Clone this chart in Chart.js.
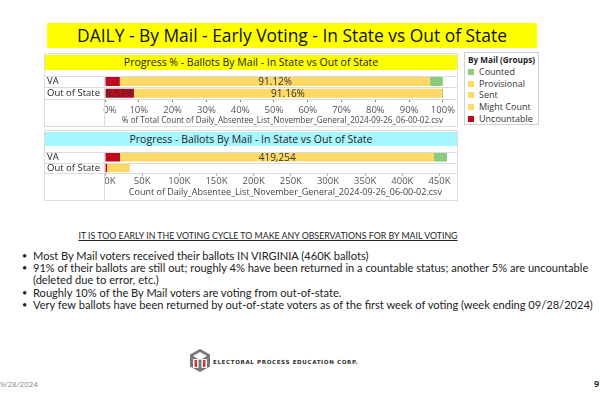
<!DOCTYPE html>
<html>
<head>
<meta charset="utf-8">
<script src="https://cdn.jsdelivr.net/npm/chart.js@4.4.1/dist/chart.umd.min.js"></script>
<style>
body { margin:0; width:600px; height:400px; background:#fff; position:relative; overflow:hidden; font-family:"Open Sans", sans-serif; color:#222; }
.abs { position:absolute; }
#title { left:47px; top:23px; width:490px; height:25px; background:#ffff00; font-size:17.4px; line-height:25px; text-align:center; color:#111; }
.panel { left:44px; width:414px; border:1px solid #dcdcdc; box-sizing:border-box; }
.hdr { left:45px; width:412px; font-size:10.5px; text-align:center; color:#222; }
#legend { left:464px; top:52px; width:75px; height:73px; border:1px solid #d0d0d0; box-sizing:border-box; padding-left:3px; }
#legend .lt { font-weight:bold; font-size:8.2px; line-height:13px; color:#1e1e1e; white-space:nowrap; }
#legend .li { font-size:9px; line-height:11.7px; white-space:nowrap; color:#333; }
#legend .sw { display:inline-block; width:6px; height:6px; margin-right:5px; vertical-align:0px; }
#note { left:0; top:230px; width:536px; text-align:center; font-family:Lato, sans-serif; font-size:8.8px; text-decoration:underline; color:#222; }
#bullets { left:22px; top:250px; width:578px; font-family:Lato, sans-serif; font-size:11.1px; line-height:12.2px; color:#222; }
#bullets div { position:relative; padding-left:11px; white-space:nowrap; }
#bullets div.b:before { content:"\2022"; position:absolute; left:0; font-size:9px; }
#logoText { left:213px; top:359px; font-family:"DejaVu Sans", sans-serif; font-weight:bold; font-size:5.6px; letter-spacing:0.6px; color:#333; white-space:nowrap; }
#date { left:0; top:378px; font-size:8px; color:#8a8a8a; }
#page { left:594px; top:377px; font-size:9px; font-weight:bold; color:#333; }
</style>
</head>
<body>
<div id="title" class="abs">DAILY - By Mail - Early Voting - In State vs Out of State</div>

<div class="abs panel" style="top:53px;height:74px;"></div>
<div class="abs hdr" style="top:55px;height:15px;line-height:15px;background:#ffff00;">Progress % - Ballots By Mail - In State vs Out of State</div>
<canvas id="pctChart" class="abs" style="left:44px;top:70px;" width="414" height="57"></canvas>

<div class="abs panel" style="top:130px;height:71px;"></div>
<div class="abs hdr" style="top:132px;height:14px;line-height:14px;background:#a6f6ff;">Progress - Ballots By Mail - In State vs Out of State</div>
<canvas id="countChart" class="abs" style="left:44px;top:146px;" width="414" height="54"></canvas>

<div id="legend" class="abs">
  <div class="lt">By Mail (Groups)</div>
  <div id="legendItems"></div>
</div>

<div id="note" class="abs">IT IS TOO EARLY IN THE VOTING CYCLE TO MAKE ANY OBSERVATIONS FOR BY MAIL VOTING</div>
<div id="bullets" class="abs">
  <div class="b">Most By Mail voters received their ballots IN VIRGINIA (460K ballots)</div>
  <div class="b">91% of their ballots are still out; roughly 4% have been returned in a countable status; another 5% are uncountable</div>
  <div>(deleted due to error, etc.)</div>
  <div class="b">Roughly 10% of the By Mail voters are voting from out-of-state.</div>
  <div class="b">Very few ballots have been returned by out-of-state voters as of the first week of voting (week ending 09/28/2024)</div>
</div>

<svg class="abs" style="left:189px;top:348px;" width="22" height="25" viewBox="0 0 22 25">
  <polygon points="11,1 21,6.5 21,18.5 11,24 1,18.5 1,6.5" fill="#777"/>
  <polygon points="11,4 18,8 11,12 4,8" fill="#fff"/>
  <rect x="4" y="11" width="5.5" height="9" fill="#fff"/>
  <rect x="12.5" y="11" width="5.5" height="9" fill="#fff"/>
  <rect x="5.5" y="12" width="2.5" height="7" fill="#e0302a"/>
  <rect x="14" y="12" width="2.5" height="7" fill="#e0302a"/>
</svg>
<div id="logoText" class="abs">ELECTORAL PROCESS EDUCATION CORP.</div>
<div id="date" class="abs">9/28/2024</div>
<div id="page" class="abs">9</div>

<script>
// rows and groups
var places = ['VA', 'Out of State'];
var groups = ['Counted', 'Provisional', 'Sent', 'Might Count', 'Uncountable'];
var groupColors = ['#8acb7c', '#ffd966', '#ffd966', '#ffd966', '#bf0a1e'];

// ballot counts per row (VA, Out of State)
var counted = [17490, 90];
var provisional = [1380, 0];
var sent = [419254, 30540];
var mightCount = [1840, 0];
var uncountable = [20150, 2870];

// axis ticks
var pctTicks = [0, 10, 20, 30, 40, 50, 60, 70, 80, 90, 100];
var countTicks = [0, 50000, 100000, 150000, 200000, 250000, 300000, 350000, 400000, 450000];

var fontFam = '"Open Sans", sans-serif';
var series = [counted, provisional, sent, mightCount, uncountable];
var totals = places.map(function(p, i) {
    var t = 0
    for (var g = 0; g < series.length; g++) t += series[g][i]
    return t
});

// legend
var legendHtml = ''
for (var g = 0; g < groups.length; g++) {
    legendHtml += '<div class="li"><span class="sw" style="background:' + groupColors[g] + '"></span>' + groups[g] + '</div>'
}
document.getElementById('legendItems').innerHTML = legendHtml;

// light grey row lines + the line right of the row labels
var frame = {
    id: 'frame',
    beforeDatasetsDraw: function(chart) {
        var ctx = chart.ctx, y = chart.scales.y, a = chart.chartArea;
        var half = (y.getPixelForValue(1) - y.getPixelForValue(0)) / 2;
        ctx.save();
        ctx.strokeStyle = '#dcdcdc';
        ctx.lineWidth = 1;
        ctx.beginPath();
        for (var i = 0; i <= places.length; i++) {
            var py = Math.round(y.getPixelForValue(i) - half) + 0.5;
            ctx.moveTo(0, py);
            ctx.lineTo(chart.width, py);
        }
        var px = Math.round(a.left) - 0.5;
        ctx.moveTo(px, a.top);
        ctx.lineTo(px, chart.height);
        ctx.stroke();
        ctx.restore();
    }
};

// value labels inside chosen segments
var barText = {
    id: 'barText',
    afterDatasetsDraw: function(chart, args, opts) {
        var ctx = chart.ctx;
        ctx.save();
        ctx.font = '10px ' + fontFam;
        ctx.fillStyle = '#333';
        ctx.textAlign = 'center';
        ctx.textBaseline = 'middle';
        chart.data.datasets.forEach(function(ds, di) {
            if (!ds.showLabel) return;
            chart.getDatasetMeta(di).data.forEach(function(bar, i) {
                if (!ds.showLabel[i]) return;
                var p = bar.getCenterPoint();
                ctx.fillText(opts.format(ds.data[i]), p.x, p.y + 1);
            });
        });
        ctx.restore();
    }
};

function makeDatasets(valueOf, labels) {
    // stacked left to right: Uncountable ... Counted
    var sets = []
    for (var g = series.length - 1; g >= 0; g--) {
        sets.push({
            label: groups[g],
            data: series[g].map(function(v, i) { return valueOf(v, i) }),
            backgroundColor: groupColors[g],
            borderWidth: 0,
            categoryPercentage: 1,
            barPercentage: 0.78,
            showLabel: labels[groups[g]]
        })
    }
    return sets
}

function barOptions(o) {
    return {
        indexAxis: 'y',
        responsive: false,
        animation: false,
        events: [],
        layout: { padding: { left: 3, right: 11, top: 1, bottom: 0 } },
        plugins: {
            legend: { display: false },
            tooltip: { enabled: false },
            barText: { format: o.format }
        },
        scales: {
            x: {
                stacked: true,
                min: 0,
                max: o.max,
                border: { display: false },
                grid: { drawOnChartArea: false, drawTicks: true, tickLength: o.tickLength, color: '#888' },
                afterBuildTicks: function(s) {
                    s.ticks = o.ticks.map(function(v) { return { value: v } })
                },
                ticks: {
                    padding: o.pad,
                    autoSkip: false,
                    maxRotation: 0,
                    color: '#555',
                    font: { family: fontFam, size: 9.5 },
                    callback: function(v) { return (v === 0 ? '    ' : '') + o.tickText(v) }
                },
                title: {
                    display: true,
                    text: '        ' + o.title,
                    color: '#444',
                    font: { family: fontFam, size: 9 },
                    padding: { top: o.titleTop, bottom: o.titleBottom }
                }
            },
            y: {
                stacked: true,
                border: { display: false },
                grid: { display: false },
                afterFit: function(s) { s.width = 58 },
                ticks: { crossAlign: 'far', autoSkip: false, padding: 0, color: '#222', font: { family: fontFam, size: 9.5 } }
            }
        }
    }
}

new Chart(document.getElementById('pctChart'), {
    type: 'bar',
    data: {
        labels: places,
        datasets: makeDatasets(function(v, i) { return v / totals[i] * 100 },
            { 'Sent': [true, true], 'Uncountable': [false, true] })
    },
    options: barOptions({
        max: 100,
        ticks: pctTicks,
        tickText: function(v) { return v + '%' },
        format: function(v) { return v.toFixed(2) + '%' },
        tickLength: 3, pad: 3, titleTop: 1, titleBottom: 1,
        title: '% of Total Count of Daily_Absentee_List_November_General_2024-09-26_06-00-02.csv'
    }),
    plugins: [frame, barText]
});

new Chart(document.getElementById('countChart'), {
    type: 'bar',
    data: {
        labels: places,
        datasets: makeDatasets(function(v) { return v }, { 'Sent': [true, false] })
    },
    options: barOptions({
        max: Math.max.apply(null, totals),
        ticks: countTicks,
        tickText: function(v) { return (v / 1000) + 'K' },
        format: function(v) { return v.toLocaleString('en-US') },
        tickLength: 2, pad: 0, titleTop: 4, titleBottom: 2,
        title: 'Count of Daily_Absentee_List_November_General_2024-09-26_06-00-02.csv'
    }),
    plugins: [frame, barText]
});
</script>
</body>
</html>
